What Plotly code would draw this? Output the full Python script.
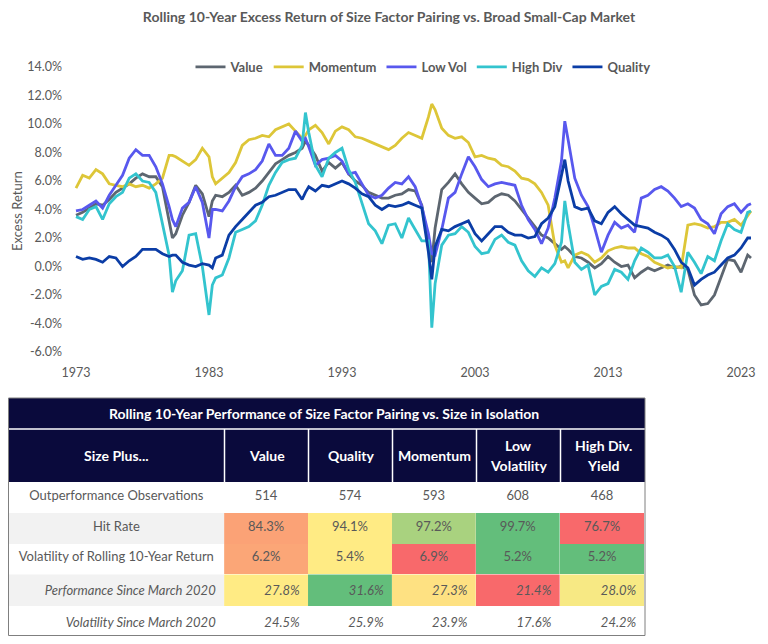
import plotly.graph_objects as go

# x positions (years), semi-annual points plus a few extra at the sharp moves
years = [
    1973.0, 1973.5, 1974.0, 1974.5, 1975.0, 1975.5, 1976.0, 1976.5, 1977.0, 1977.5,
    1978.0, 1978.5, 1979.0, 1979.5, 1980.0, 1980.25, 1980.5, 1981.0, 1981.5, 1982.0, 1982.5,
    1983.0, 1983.25, 1983.5, 1984.0, 1984.5, 1985.0, 1985.5, 1986.0, 1986.5, 1987.0, 1987.5,
    1988.0, 1988.5, 1989.0, 1989.5, 1990.0, 1990.25, 1990.5, 1991.0, 1991.5, 1992.0, 1992.5,
    1993.0, 1993.5, 1994.0, 1994.5, 1995.0, 1995.5, 1996.0, 1996.5, 1997.0, 1997.5,
    1998.0, 1998.5, 1999.0, 1999.5, 1999.75, 2000.0, 2000.5, 2001.0, 2001.5, 2002.0, 2002.5,
    2003.0, 2003.5, 2004.0, 2004.5, 2005.0, 2005.5, 2006.0, 2006.5, 2007.0, 2007.5,
    2008.0, 2008.5, 2009.0, 2009.5, 2009.75, 2010.0, 2010.5, 2011.0, 2011.5, 2012.0, 2012.5,
    2013.0, 2013.5, 2014.0, 2014.5, 2015.0, 2015.5, 2016.0, 2016.5, 2017.0, 2017.5,
    2018.0, 2018.5, 2019.0, 2019.5, 2020.0, 2020.5, 2021.0, 2021.5, 2022.0, 2022.5, 2023.0, 2023.5, 2023.75,
]

value = [
    3.6, 3.8, 4.1, 4.4, 4.3, 4.7, 5.2, 5.5, 5.8, 6.2,
    6.5, 6.3, 6.3, 5.6, 3.1, 2.0, 2.3, 3.6, 4.5, 5.7, 5.1,
    3.5, 4.6, 5.0, 4.9, 5.2, 5.7, 5.0, 5.2, 5.5, 6.0, 6.6,
    7.2, 7.5, 7.8, 8.0, 8.3, 8.8, 8.5, 7.8, 6.7, 7.3, 6.9,
    7.3, 6.5, 6.0, 5.7, 5.2, 5.0, 4.8, 4.8, 5.0, 5.1,
    5.4, 5.3, 4.3, 1.5, 0.3, 2.7, 5.4, 5.9, 6.5, 5.8, 5.2,
    4.8, 4.4, 4.5, 4.9, 5.1, 5.0, 4.6, 4.0, 3.4, 2.8,
    2.2, 2.0, 1.6, 1.2, 1.4, 1.2, 0.7, 0.6, 0.3, -0.1, 0.2,
    0.7, 0.3, 0.0, 0.1, -0.8, -0.4, -0.1, -0.3, -0.1, 0.1,
    -0.1, 0.0, -0.2, -2.0, -2.7, -2.6, -2.0, -0.8, 0.5, 0.4, -0.4, 0.8, 0.6,
]

momentum = [
    5.5, 6.4, 6.2, 6.8, 6.5, 5.8, 5.7, 5.6, 5.8, 5.6,
    5.7, 5.5, 5.8, 6.2, 7.8, 7.8, 7.7, 7.4, 7.1, 7.5, 8.3,
    7.7, 6.3, 5.8, 6.2, 6.6, 7.3, 8.5, 8.9, 9.0, 9.2, 9.1,
    9.6, 9.8, 10.0, 9.5, 9.0, 9.2, 9.6, 9.9, 9.4, 8.6, 9.5,
    9.8, 9.6, 9.1, 9.0, 8.8, 8.6, 8.4, 8.2, 8.5, 9.0,
    9.4, 9.2, 9.0, 10.5, 11.4, 11.0, 9.7, 9.2, 9.0, 9.1, 8.7,
    7.7, 7.8, 7.6, 7.5, 7.1, 7.0, 6.7, 6.2, 6.1, 5.8,
    5.2, 4.3, 1.5, 0.3, 0.4, -0.1, 0.8, 1.0, 0.8, 0.3, 0.6,
    1.1, 1.3, 1.4, 1.3, 1.3, 0.9, 0.7, 0.3, 0.1, -0.1,
    0.0, -0.1, 2.9, 3.0, 2.9, 2.7, 2.8, 3.1, 3.1, 3.3, 2.9, 3.6, 3.9,
]

low_vol = [
    3.9, 4.0, 4.3, 4.6, 4.1, 5.0, 5.7, 6.4, 7.6, 8.2,
    7.8, 7.8, 7.0, 5.8, 4.2, 3.3, 2.8, 4.1, 4.5, 5.6, 4.5,
    2.0, 4.0, 4.0, 3.9, 4.6, 5.6, 6.3, 6.5, 6.8, 7.4, 8.6,
    7.8, 7.8, 8.3, 9.5, 8.8, 9.0, 8.4, 7.1, 7.5, 7.6, 7.8,
    7.4, 6.5, 6.6, 5.8, 5.0, 4.8, 5.0, 5.5, 5.9, 5.8,
    6.3, 5.6, 4.2, 2.3, 0.9, 0.8, 2.6, 4.8, 5.2, 6.5, 7.7,
    7.0, 6.1, 5.6, 5.8, 5.9, 5.8, 5.7, 4.3, 3.3, 2.6,
    1.6, 2.7, 4.8, 7.4, 10.2, 8.9, 6.2, 5.0, 4.2, 2.7, 1.0,
    2.2, 3.1, 2.7, 2.9, 2.4, 4.8, 5.0, 5.4, 5.6, 5.3,
    4.8, 4.2, 4.4, 4.1, 3.3, 3.0, 2.3, 3.7, 4.2, 4.4, 3.8, 4.3, 4.4,
]

high_div = [
    3.5, 3.3, 4.0, 4.2, 3.3, 4.4, 4.9, 5.2, 6.2, 6.5,
    6.0, 5.9, 5.2, 3.1, 0.8, -1.8, -1.0, -0.3, 2.2, 2.3, 0.0,
    -3.4, -1.3, -0.8, -0.6, 0.6, 2.4, 2.6, 2.8, 3.2, 4.3, 5.7,
    6.6, 7.3, 7.5, 7.6, 8.5, 10.8, 9.4, 7.1, 6.3, 7.6, 8.0,
    8.3, 6.8, 5.9, 4.5, 3.0, 2.5, 1.6, 2.9, 3.0, 2.0,
    3.4, 2.6, 1.8, 1.8, -4.3, -1.2, 1.5, 2.2, 2.3, 2.8, 2.4,
    1.4, 0.9, 1.0, 1.9, 2.2, 1.7, 1.5, 0.4, -0.3, -0.7,
    -0.1, -0.4, 0.2, 1.7, 4.6, 3.0, 0.3, -0.2, 0.1, -2.0, -1.4,
    -1.2, -0.2, -0.4, -0.9, 0.4, 1.3, 1.0, 0.6, 0.6, 0.8,
    0.0, -1.8, 1.0, 0.3, -0.5, 0.7, 0.4, 1.8, 3.0, 2.6, 2.4, 3.8, 3.9,
]

quality = [
    0.7, 0.5, 0.6, 0.5, 0.3, 0.7, 0.6, 0.0, 0.4, 0.7,
    1.2, 1.2, 1.2, 0.9, 0.7, 0.8, 0.8, 0.3, 0.1, 0.0, 0.2,
    0.1, -0.1, 0.6, 0.8, 2.2, 2.8, 3.3, 3.8, 4.3, 4.5, 4.9,
    5.0, 5.2, 5.4, 5.4, 4.7, 5.2, 5.6, 5.3, 5.7, 5.6, 5.8,
    6.0, 5.8, 5.5, 5.1, 4.9, 4.3, 4.0, 4.3, 4.2, 4.3,
    4.5, 4.3, 4.1, 1.0, -0.9, 1.4, 2.6, 2.5, 2.8, 3.0, 3.2,
    2.3, 1.8, 2.3, 2.8, 2.8, 2.4, 2.2, 2.2, 2.0, 2.1,
    3.0, 3.4, 4.2, 6.5, 7.5, 6.0, 4.2, 4.0, 4.1, 3.2, 3.0,
    3.8, 4.2, 3.7, 3.3, 2.9, 2.8, 2.7, 2.4, 2.2, 1.9,
    1.2, 0.3, -0.1, -1.3, -0.9, -0.6, -0.4, 0.1, 0.6, 0.8, 1.3, 2.0, 2.0,
]

x_ticks = [1973, 1983, 1993, 2003, 2013, 2023]
y_ticks = [-6, -4, -2, 0, 2, 4, 6, 8, 10, 12, 14]

# table data
header_lines = [["Size Plus..."], ["Value"], ["Quality"], ["Momentum"],
                ["Low", "Volatility"], ["High Div.", "Yield"]]
row_labels = ["Outperformance Observations", "Hit Rate", "Volatility of Rolling 10-Year Return",
              "Performance Since March 2020", "Volatility Since March 2020"]
observations = [514, 574, 593, 608, 468]
hit_rate = [84.3, 94.1, 97.2, 99.7, 76.7]
vol_rolling = [6.2, 5.4, 6.9, 5.2, 5.2]
perf_since_2020 = [27.8, 31.6, 27.3, 21.4, 28.0]
vol_since_2020 = [24.5, 25.9, 23.9, 17.6, 24.2]

# the page puts the figure 8px in from the top-left corner
OFF = 8
W, H = 752, 628
FONT = "Lato"
GREY = "#595959"
NAVY = "#0A0A3C"

series = [
    ("Value", value, "#5D6670"),
    ("Momentum", momentum, "#DDC638"),
    ("Low Vol", low_vol, "#5858EE"),
    ("High Div", high_div, "#33C4CE"),
    ("Quality", quality, "#0B3DA6"),
]


def px_x(p):
    return min(1.0, max(0.0, (p - OFF) / W))


def px_y(p):
    return min(1.0, max(0.0, 1 - (p - OFF) / H))


def scale3(vals, higher_better=True):
    # excel-style red / yellow / green colour scale
    red, yel, grn = (248, 105, 107), (255, 235, 132), (99, 190, 123)
    lo, hi = min(vals), max(vals)
    mid = sorted(vals)[len(vals) // 2]
    out = []
    for v in vals:
        if v <= mid:
            t = 0 if mid == lo else (v - lo) / (mid - lo)
            a, b = (red, yel) if higher_better else (grn, yel)
        else:
            t = (v - mid) / (hi - mid)
            a, b = (yel, grn) if higher_better else (yel, red)
        c = [round(a[i] + (b[i] - a[i]) * t) for i in range(3)]
        out.append("rgb(%d,%d,%d)" % tuple(c))
    return out


fig = go.Figure()

for name, ys, col in series:
    fig.add_trace(go.Scatter(
        x=years, y=ys, name=name, mode="lines",
        line=dict(color=col, width=2.8),
    ))

# ---- table body: two stacked tables (centred rows, then right-aligned italic rows) ----
tbl_left, tbl_right = 8.5, 645
col_widths = [216, 84, 84, 84, 84, 85]
body_top, body_bottom = 482, 636
row_h = (body_bottom - body_top) / 5
cell_font = dict(family=FONT, size=13, color=GREY)

hit_cols = scale3(hit_rate)
vol_cols = scale3(vol_rolling, higher_better=False)
perf_cols = scale3(perf_since_2020)

t1_head = [row_labels[0]] + [str(v) for v in observations]
t1_cells = [row_labels[1:3]] + [["%.1f%%" % hit_rate[i], "%.1f%%" % vol_rolling[i]]
                                for i in range(5)]
t1_fill = [["#F2F2F2", "white"]] + [[hit_cols[i], vol_cols[i]] for i in range(5)]

t2_head = ["<i>%s</i>" % row_labels[3]] + ["<i>%.1f%%</i>" % v for v in perf_since_2020]
t2_head_fill = ["#F2F2F2"] + perf_cols
t2_cells = [["<i>%s</i>" % row_labels[4]]] + [["<i>%.1f%%</i>" % v] for v in vol_since_2020]

split = body_top + 3 * row_h
for head, head_fill, cells, fills, align, y0, y1 in [
    (t1_head, "white", t1_cells, t1_fill, "center", split, body_top),
    (t2_head, t2_head_fill, t2_cells, "white", "right", body_bottom, split),
]:
    fig.add_trace(go.Table(
        domain=dict(x=[px_x(tbl_left), px_x(tbl_right)], y=[px_y(y0), px_y(y1)]),
        columnwidth=col_widths,
        header=dict(values=head, height=row_h, fill_color=head_fill, align=align,
                    line=dict(width=0, color="white"), font=cell_font),
        cells=dict(values=cells, fill_color=fills, align=align, height=row_h,
                   line=dict(width=0, color="white"), font=cell_font),
    ))

# ---- table title + column header rows ----
shapes = [
    dict(type="rect", xref="paper", yref="paper",
         x0=px_x(tbl_left), x1=px_x(tbl_right), y0=px_y(body_top), y1=px_y(398),
         fillcolor=NAVY, line=dict(width=0), layer="above"),
    dict(type="line", xref="paper", yref="paper",
         x0=px_x(tbl_left), x1=px_x(tbl_right), y0=px_y(429), y1=px_y(429),
         line=dict(color="white", width=1.5), layer="above"),
]
annotations = [
    dict(text="<b>Rolling 10-Year Performance of Size Factor Pairing vs. Size in Isolation</b>",
         x=px_x(324), y=px_y(413.5), xref="paper", yref="paper",
         xanchor="center", yanchor="middle",
         showarrow=False, font=dict(family=FONT, size=14, color="white")),
]
edges = [tbl_left]
for w in col_widths:
    edges.append(edges[-1] + w)
for i, lines in enumerate(header_lines):
    ys = [456] if len(lines) == 1 else [445, 466]
    for txt, yy in zip(lines, ys):
        annotations.append(dict(
            text="<b>%s</b>" % txt, x=px_x((edges[i] + edges[i + 1]) / 2), y=px_y(yy),
            xref="paper", yref="paper", showarrow=False, xanchor="center", yanchor="middle",
            font=dict(family=FONT, size=14, color="white"),
        ))
    if i > 0:
        shapes.append(dict(type="line", xref="paper", yref="paper",
                           x0=px_x(edges[i]), x1=px_x(edges[i]), y0=px_y(body_top), y1=px_y(429),
                           line=dict(color="white", width=1.5), layer="above"))
# outer border
shapes.append(dict(type="rect", xref="paper", yref="paper",
                   x0=px_x(tbl_left), x1=px_x(tbl_right), y0=px_y(635.5), y1=px_y(398),
                   line=dict(color="#7F7F7F", width=1), layer="above"))

# y-axis title
annotations.append(dict(text="Excess Return", x=px_x(17), y=px_y(211), xref="paper", yref="paper",
                        xanchor="center", yanchor="middle", textangle=-90, showarrow=False,
                        font=dict(family=FONT, size=13, color=GREY)))

fig.update_layout(
    width=W, height=H,
    margin=dict(l=0, r=0, t=0, b=0),
    paper_bgcolor="white", plot_bgcolor="white",
    font=dict(family=FONT, color=GREY),
    title=dict(text="<b>Rolling 10-Year Excess Return of Size Factor Pairing vs. Broad Small-Cap Market</b>",
               x=px_x(389), y=px_y(17), xanchor="center", yanchor="middle",
               font=dict(family=FONT, size=14, color=GREY)),
    legend=dict(orientation="h", x=px_x(423), y=px_y(67), xanchor="center", yanchor="middle",
                font=dict(family=FONT, size=13, color=GREY, weight="bold"),
                itemwidth=30, bgcolor="rgba(0,0,0,0)"),
    xaxis=dict(domain=[px_x(74), px_x(753)], range=[1972.85, 2023.9],
               tickvals=x_ticks, tickformat="d", showgrid=False, zeroline=False,
               showline=False, ticks="", ticklabelstandoff=11, automargin=False,
               tickfont=dict(family=FONT, size=12.5, color=GREY)),
    yaxis=dict(domain=[px_y(352), px_y(67)], range=[-6, 14],
               tickvals=y_ticks, ticktext=["%.1f%%" % v for v in y_ticks],
               showgrid=False, zeroline=False, showline=False, ticks="",
               ticklabelstandoff=11, automargin=False,
               tickfont=dict(family=FONT, size=12.5, color=GREY)),
    shapes=shapes,
    annotations=annotations,
)

fig.write_html("out.html")
